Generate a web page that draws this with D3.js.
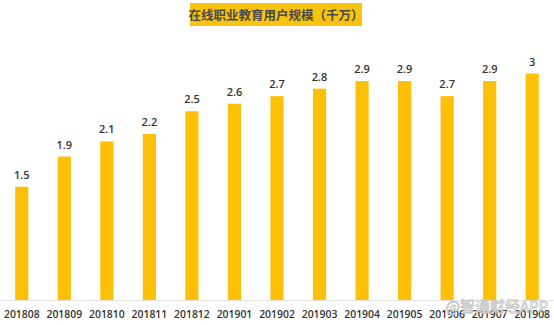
<!DOCTYPE html>
<html><head><meta charset="utf-8">
<script src="https://cdn.jsdelivr.net/npm/d3@7"></script>
<style>html,body{margin:0;padding:0;background:#fff;}svg{display:block;}</style>
</head><body>
<svg id="c" width="554" height="325"></svg>
<script>
const title = "在线职业教育用户规模（千万）";
const categories = ["201808","201809","201810","201811","201812","201901","201902","201903","201904","201905","201906","201907","201908"];
const values = [1.5,1.9,2.1,2.2,2.5,2.6,2.7,2.8,2.9,2.9,2.7,2.9,3];
const watermark = "@智通财经APP";

const W = 554, H = 325;
const svg = d3.select("#c");
const baseY = 300;

const x = d3.scaleBand().domain(categories).range([0.5, 553.5]).paddingInner(0.69).paddingOuter(0.345);
const y = d3.scaleLinear().domain([0, 3]).range([baseY, 73.5]);

// title box
const tg = svg.append("g");
tg.append("rect").attr("x", 190).attr("y", 3).attr("width", 172).attr("height", 23).attr("fill", "#F7C30E");
tg.append("text").attr("x", 276).attr("y", 19.5).attr("text-anchor", "middle")
  .attr("font-family", "'Noto Sans CJK SC', sans-serif").attr("font-weight", 700)
  .attr("font-size", 12.5).attr("fill", "#4a4a4a").text(title);

// baseline
svg.append("line").attr("x1", 0).attr("x2", 554).attr("y1", baseY + 0.5).attr("y2", baseY + 0.5)
  .attr("stroke", "#e2e2e2").attr("stroke-width", 1);

// bars
svg.selectAll("rect.bar").data(values).join("rect").attr("class", "bar")
  .attr("x", (d, i) => x(categories[i]))
  .attr("width", x.bandwidth())
  .attr("y", d => y(d))
  .attr("height", d => baseY - y(d))
  .attr("fill", "#FDC008");

// value labels
svg.selectAll("text.val").data(values).join("text").attr("class", "val")
  .attr("x", (d, i) => x(categories[i]) + x.bandwidth() / 2)
  .attr("y", d => y(d) - 8)
  .attr("text-anchor", "middle")
  .attr("font-family", "'Open Sans', sans-serif").attr("font-weight", 600)
  .attr("font-size", 11).attr("fill", "#333").text(d => d);

// x axis
const ax = svg.append("g").attr("transform", `translate(0,${baseY})`)
  .call(d3.axisBottom(x).tickSize(0).tickPadding(0));
ax.select(".domain").remove();
ax.selectAll("text").attr("dy", 0).attr("y", 18)
  .attr("font-family", "'Open Sans', sans-serif").attr("font-weight", 600)
  .attr("font-size", 10.4).attr("fill", "#333");

// watermark
svg.append("text").attr("x", 548).attr("y", 312).attr("text-anchor", "end")
  .attr("font-family", "'Noto Sans CJK SC', sans-serif").attr("font-size", 15)
  .attr("fill", "none").attr("stroke", "#c8c8c8").attr("stroke-width", 0.8).text(watermark);
</script>
</body></html>
